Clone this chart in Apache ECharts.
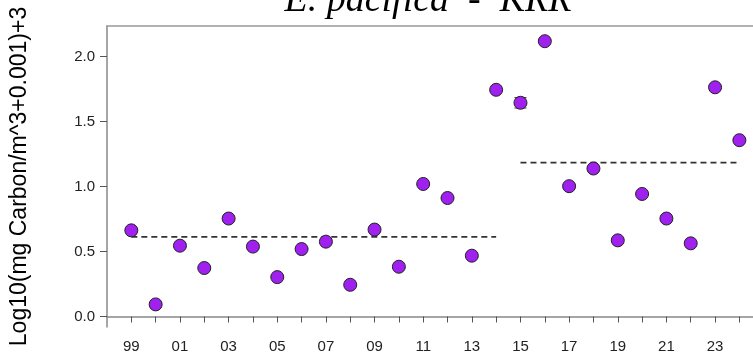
<!DOCTYPE html>
<html>
<head>
<meta charset="utf-8">
<script src="https://cdn.jsdelivr.net/npm/echarts@6/dist/echarts.min.js"></script>
<style>html,body{margin:0;padding:0;background:#fff;}#c{width:753px;height:356px;}</style>
</head>
<body>
<div id="c"></div>
<script>
const years = [1999,2000,2001,2002,2003,2004,2005,2006,2007,2008,2009,2010,2011,2012,2013,2014,2015,2016,2017,2018,2019,2020,2021,2022,2023,2024];
const values = [0.663,0.093,0.545,0.373,0.754,0.538,0.303,0.519,0.576,0.244,0.669,0.383,1.020,0.912,0.468,1.745,1.645,2.119,1.003,1.139,0.586,0.943,0.754,0.563,1.764,1.357];
const meanEarlyYears = [1999,2014];
const meanEarlyValue = 0.612;
const meanLateYears = [2015,2024];
const meanLateValue = 1.185;
const errYears = [2015];
const errLow = [1.605];
const errHigh = [1.685];
const yTicks = [0,0.5,1.0,1.5,2.0];
const xTicks = years;
const xLabels = [1999,2001,2003,2005,2007,2009,2011,2013,2015,2017,2019,2021,2023];

const chart = echarts.init(document.getElementById('c'), null, {renderer:'canvas'});
chart.setOption({
  animation:false,
  backgroundColor:'#fff',
  title:{
    text:'E. pacifica  -  KRR',
    left:423, textAlign:'center', top:-23,
    textStyle:{fontFamily:'Liberation Serif', fontStyle:'italic', fontWeight:'normal', fontSize:38, color:'#000'}
  },
  grid:{left:106, top:26, right:0, height:301, show:false},
  xAxis:[{
    type:'value', min:1998, max:2024.56,
    axisLine:{show:true, lineStyle:{color:'#888', width:1.5}},
    axisTick:{show:true, customValues:xTicks, length:6, lineStyle:{color:'#555'}},
    axisLabel:{customValues:xLabels, margin:12, fontFamily:'Liberation Sans', fontSize:15, color:'#222',
      formatter:v=>String(v%100).padStart(2,'0')},
    splitLine:{show:false}
  },{
    type:'value', position:'top', min:1998, max:2024.56,
    axisLine:{show:true, lineStyle:{color:'#999', width:1.5}},
    axisTick:{show:false}, axisLabel:{show:false}, splitLine:{show:false}
  }],
  yAxis:{
    type:'value', min:-0.081, max:2.236,
    name:'Log10(mg Carbon/m^3+0.001)+3', nameLocation:'middle', nameGap:76, nameRotate:90,
    nameTextStyle:{fontFamily:'Liberation Sans', fontSize:23, color:'#000'},
    axisLine:{show:true, lineStyle:{color:'#888', width:1.5}},
    axisTick:{show:true, customValues:yTicks, length:7, lineStyle:{color:'#555'}},
    axisLabel:{customValues:yTicks, margin:12, fontFamily:'Liberation Sans', fontSize:15, color:'#222',
      formatter:v=>v.toFixed(1)},
    splitLine:{show:false}
  },
  series:[
    {type:'line', data:meanEarlyYears.map(y=>[y,meanEarlyValue]), symbol:'none', silent:true,
      lineStyle:{color:'#333', width:1.8, type:[6,4]}},
    {type:'line', data:meanLateYears.map(y=>[y,meanLateValue]), symbol:'none', silent:true,
      lineStyle:{color:'#333', width:1.8, type:[6,4]}},
    {type:'custom', data:errYears.map((y,i)=>[y,errLow[i],errHigh[i]]),
      renderItem:function(params, api){
        const lo = api.coord([api.value(0), api.value(1)]);
        const hi = api.coord([api.value(0), api.value(2)]);
        const w = 6;
        return {type:'group', children:[
          {type:'line', shape:{x1:lo[0],y1:lo[1],x2:hi[0],y2:hi[1]}, style:{stroke:'#333', lineWidth:1}},
          {type:'line', shape:{x1:lo[0]-w,y1:lo[1],x2:lo[0]+w,y2:lo[1]}, style:{stroke:'#333', lineWidth:1}},
          {type:'line', shape:{x1:hi[0]-w,y1:hi[1],x2:hi[0]+w,y2:hi[1]}, style:{stroke:'#333', lineWidth:1}}
        ]};
      }},
    {type:'scatter', data:years.map((y,i)=>[y,values[i]]), symbolSize:13, z:5,
      itemStyle:{color:'#A020F0', borderColor:'#222', borderWidth:1, opacity:1}}
  ]
});
</script>
</body>
</html>
